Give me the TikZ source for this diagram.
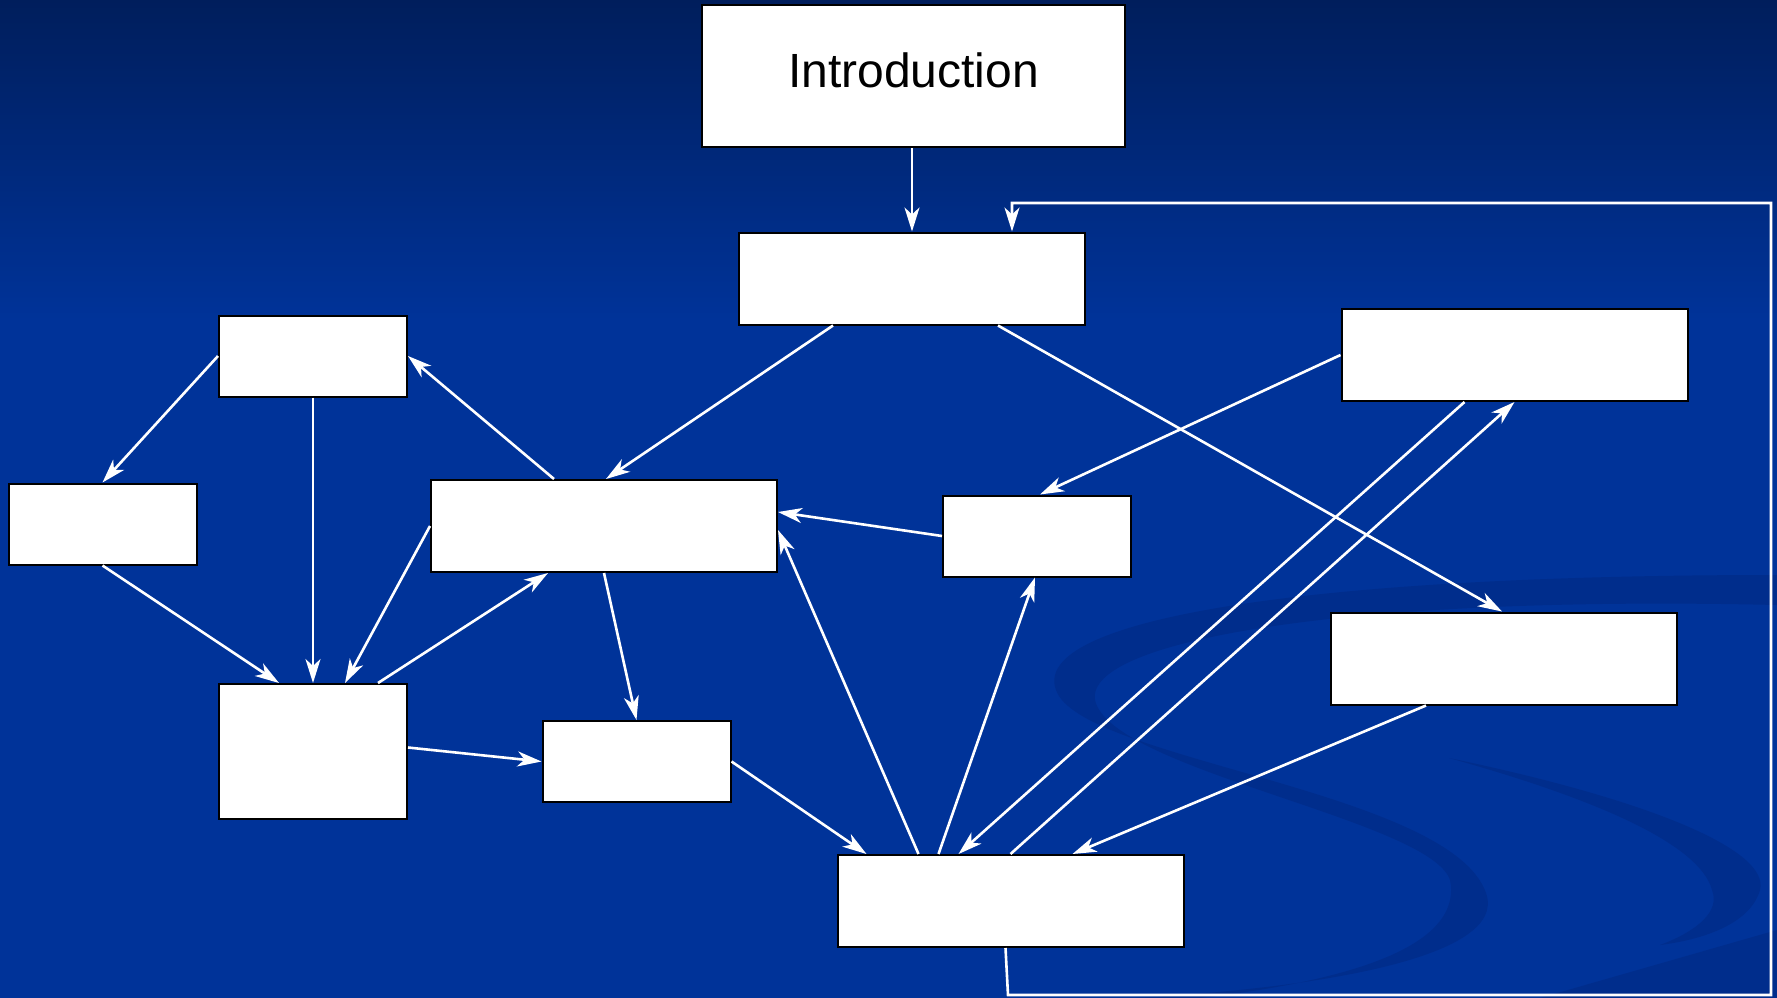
\documentclass[tikz,border=0pt]{standalone}
\usepackage{fontspec}
\setmainfont{Liberation Sans}
\usetikzlibrary{arrows.meta,positioning}

\definecolor{slidetop}{RGB}{0,30,92}
\definecolor{slideblue}{RGB}{0,51,153}
\definecolor{swoosh}{RGB}{0,45,140}

\begin{document}
\begin{tikzpicture}[x=1pt, y=-1pt,
  box/.style={rectangle, draw=black, fill=white, line width=2pt, inner sep=0pt},
  smallbox/.style={box, minimum width=188pt, minimum height=81pt},
  widebox/.style={box, minimum width=346pt, minimum height=92pt},
  arrow/.style={draw=white, line width=2.6pt, -{Stealth[length=24pt, width=15pt, inset=7pt]}}]

% background
\useasboundingbox (0,0) rectangle (1777,998);
\fill[slideblue] (0,0) rectangle (1777,998);
\shade[top color=slidetop, bottom color=slideblue] (0,0) rectangle (1777,320);
\fill[swoosh] (1777,575) .. controls (1300,575) and (1030,620) .. (1056,690)
  .. controls (1080,760) and (1450,790) .. (1486,893) .. controls (1510,960) and (1300,990) .. (1130,998)
  -- (1200,998) .. controls (1400,975) and (1460,930) .. (1450,880)
  .. controls (1430,820) and (1110,770) .. (1095,700) .. controls (1085,640) and (1350,595) .. (1777,605) -- cycle;
\fill[swoosh] (1449,758) .. controls (1650,800) and (1770,850) .. (1760,890)
  .. controls (1750,925) and (1700,940) .. (1660,945) .. controls (1700,930) and (1720,910) .. (1712,890)
  .. controls (1700,845) and (1600,800) .. (1449,758) -- cycle;
\fill[swoosh] (1540,998) -- (1777,930) -- (1777,998) -- cycle;

% boxes
\node[box, minimum width=423pt, minimum height=142pt, text depth=11pt, font=\fontsize{48}{56}\selectfont] (intro) at (913.5,76) {Introduction};
\node[widebox] (aim) at (912,278.5) {};
\node[smallbox] (upleft) at (313,356) {};
\node[smallbox] (farleft) at (102.5,524) {};
\node[widebox] (mid) at (604,526) {};
\node[smallbox, minimum height=135pt] (lowleft) at (313,751.5) {};
\node[smallbox] (lowmid) at (636.5,761.5) {};
\node[smallbox] (midright) at (1037,536) {};
\node[widebox] (upright) at (1514.5,355) {};
\node[widebox] (lowright) at (1504,658.5) {};
\node[widebox] (bottom) at (1010.5,901) {};

% links
\draw[arrow] ([xshift=-1.5pt]intro.south) -- (aim.north);
\draw[arrow] ([xshift=-79pt]aim.south) -- ([xshift=2pt]mid.north);
\draw[arrow] ([xshift=86pt]aim.south) -- ([xshift=-2pt]lowright.north);
\draw[arrow] (upright.west) -- ([xshift=3pt]midright.north);
\draw[arrow] ([xshift=-50pt]upright.south) -- ([xshift=-52pt]bottom.north);
\draw[arrow] (bottom.north) -- (upright.south);
\draw[arrow] ([xshift=-78pt]lowright.south) -- ([xshift=62pt]bottom.north);
\draw[arrow] (midright.west) -- ([yshift=14pt]mid.east);
\draw[arrow] ([xshift=-92pt]bottom.north) -- ([yshift=-4pt]mid.east);
\draw[arrow] ([xshift=-72pt]bottom.north) -- ([xshift=-2pt]midright.south);
\draw[arrow] (lowmid.east) -- ([xshift=30pt]bottom.north west);
\draw[arrow] (mid.south) -- (lowmid.north);
\draw[arrow] ([yshift=4pt]lowleft.east) -- (lowmid.west);
\draw[arrow] ([xshift=65pt]lowleft.north) -- ([xshift=-56pt]mid.south);
\draw[arrow] (mid.west) -- ([xshift=32pt]lowleft.north);
\draw[arrow] (upleft.south) -- (lowleft.north);
\draw[arrow] ([xshift=-50pt]mid.north) -- (upleft.east);
\draw[arrow] (upleft.west) -- (farleft.north);
\draw[arrow] (farleft.south) -- ([xshift=-34pt]lowleft.north);

% feedback loop
\draw[arrow] ([xshift=-5pt]bottom.south) -- (1008,995) -- (1771,995) -- (1771,203) -| ([xshift=100pt]aim.north);

\end{tikzpicture}
\end{document}
